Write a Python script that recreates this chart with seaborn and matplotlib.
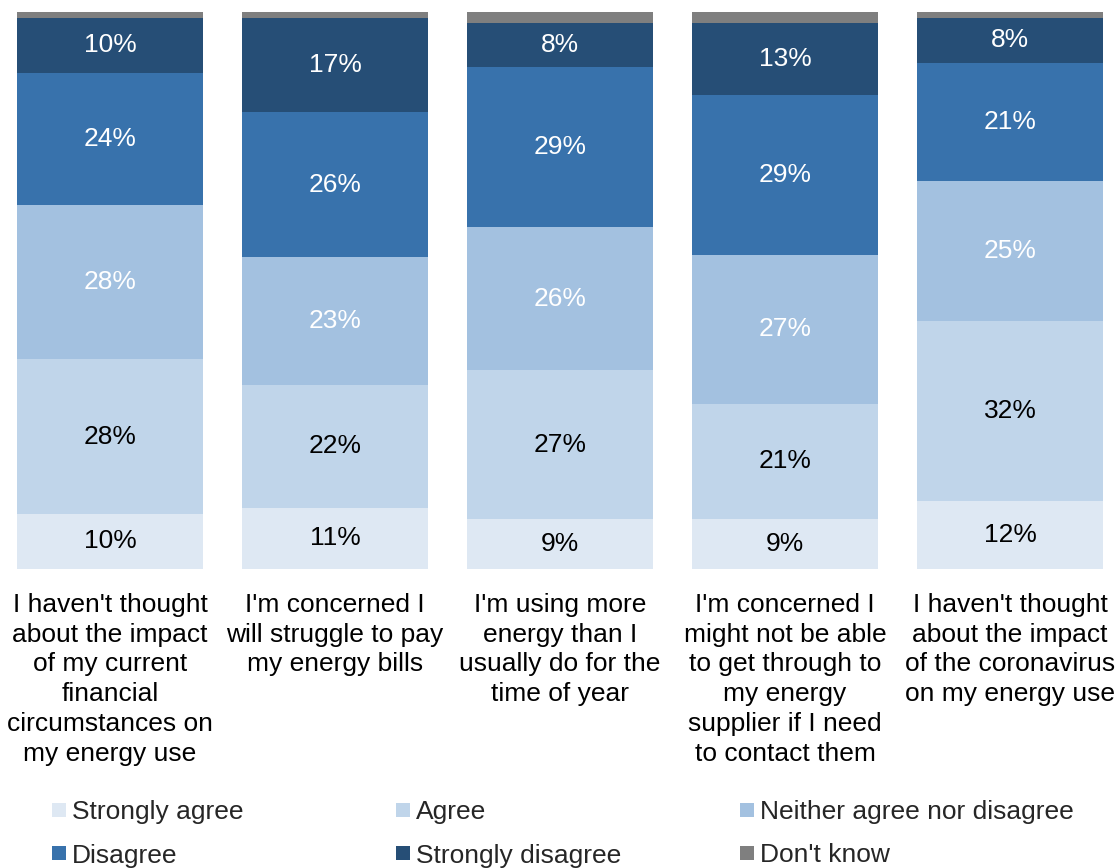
import numpy as np
import pandas as pd
import matplotlib
matplotlib.use("Agg")
import matplotlib.pyplot as plt
import seaborn as sns
from matplotlib.patches import Rectangle

statements = [
    "I haven't thought\nabout the impact\nof my current\nfinancial\ncircumstances on\nmy energy use",
    "I'm concerned I\nwill struggle to pay\nmy energy bills",
    "I'm using more\nenergy than I\nusually do for the\ntime of year",
    "I'm concerned I\nmight not be able\nto get through to\nmy energy\nsupplier if I need\nto contact them",
    "I haven't thought\nabout the impact\nof the coronavirus\non my energy use",
]
responses = ["Strongly agree", "Agree", "Neither agree nor disagree",
             "Disagree", "Strongly disagree", "Don't know"]

strongly_agree = [10, 11, 9, 9, 12]
agree = [28, 22, 27, 21, 32]
neither = [28, 23, 26, 27, 25]
disagree = [24, 26, 29, 29, 21]
strongly_disagree = [10, 17, 8, 13, 8]
dont_know = [1, 1, 2, 2, 1]

colors = ["#DEE8F3", "#C0D5EA", "#A3C1E0", "#3872AC", "#264E76", "#7F7F7F"]
label_colors = ["#000000", "#000000", "#FFFFFF", "#FFFFFF", "#FFFFFF", None]

sns.set_theme(style="white")
plt.rcParams["font.family"] = ["Liberation Sans", "DejaVu Sans"]

FS = 19

series = [strongly_agree, agree, neither, disagree, strongly_disagree, dont_know]
raw = np.array(series, dtype=float)
totals = raw.sum(axis=0)
shares = raw / totals * 100.0

keys = [f"s{i}" for i in range(len(statements))]
W, H = 1118, 868
fig = plt.figure(figsize=(W / 100, H / 100), dpi=100)
ax = fig.add_axes([0.0, 1 - 569 / H, 1.0, (569 - 12) / H])

bottom = np.zeros(len(statements))
for k, (resp, col) in enumerate(zip(responses, colors)):
    df = pd.DataFrame({"statement": keys, "share": shares[k]})
    sns.barplot(data=df, x="statement", y="share", order=keys, color=col,
                width=0.83, bottom=bottom.copy(), ax=ax, errorbar=None,
                saturation=1, edgecolor="none", linewidth=0)
    if label_colors[k] is not None:
        for i in range(len(statements)):
            ax.text(i, bottom[i] + shares[k][i] / 2, f"{series[k][i]}%",
                    ha="center", va="center", fontsize=FS,
                    color=label_colors[k])
    bottom += shares[k]

ax.set_xlim(-110 / 225, (W - 110) / 225)
ax.set_ylim(0, 100)
ax.set_yticks([])
ax.set_xticks(range(len(statements)))
ax.set_xticklabels(statements, fontsize=FS, color="#000000", linespacing=1.31)
ax.tick_params(axis="x", length=0, pad=17)
ax.set_xlabel("")
ax.set_ylabel("")
for s in ax.spines.values():
    s.set_visible(False)

# legend drawn as a 3x2 grid of swatches and labels
legend_x = [52, 396, 740]
legend_y = [810, 853]
for idx, (resp, col) in enumerate(zip(responses, colors)):
    r, c = divmod(idx, 3)
    x0, yc = legend_x[c], legend_y[r]
    fig.patches.append(Rectangle((x0 / W, 1 - (yc + 7) / H), 14 / W, 14 / H,
                                 transform=fig.transFigure, facecolor=col,
                                 edgecolor="none"))
    fig.text((x0 + 20) / W, 1 - yc / H, resp, fontsize=FS, color="#262626",
             ha="left", va="center_baseline")

fig.savefig("out.png", dpi=100)
